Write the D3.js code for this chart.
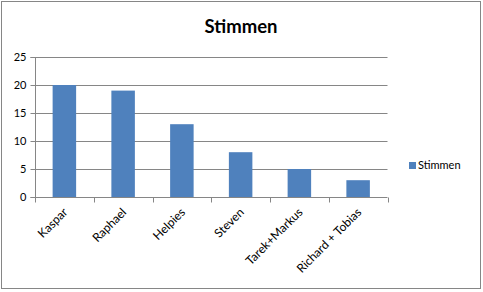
<!DOCTYPE html>
<html><head><meta charset="utf-8">
<script src="https://cdn.jsdelivr.net/npm/d3@7"></script>
<style>body{margin:0;background:#fff}svg{display:block}text{font-family:Lato,"Open Sans",sans-serif}</style>
</head><body>
<script>
const categories = ["Kaspar","Raphael","Helpies","Steven","Tarek+Markus","Richard + Tobias"];
const values = [20,19,13,8,5,3];
const yTicks = [0,5,10,15,20,25];
const seriesName = "Stimmen";
const title = "Stimmen";

const W=483,H=292;
const svg=d3.select("body").append("svg").attr("width",W).attr("height",H);
svg.append("rect").attr("x",1.5).attr("y",1.5).attr("width",479).attr("height",287)
  .attr("fill","#fff").attr("stroke","#868686").attr("stroke-width",1);

const x=d3.scaleBand().domain(categories).range([35,387.5]).paddingInner(0.6).paddingOuter(0.3);
const xb=d3.scaleBand().domain(categories).range([35,387.5]);
const y=d3.scaleLinear().domain([0,25]).range([197,57]);

svg.append("text").attr("x",241).attr("y",33).attr("text-anchor","middle")
  .attr("font-size",18.5).attr("font-weight","bold").attr("fill","#000").text(title);

const g=svg.append("g");
yTicks.forEach(t=>{
  if(t>0) g.append("line").attr("x1",35).attr("x2",387.5).attr("y1",Math.round(y(t))+0.5).attr("y2",Math.round(y(t))+0.5).attr("stroke","#868686");
});

g.selectAll("rect.bar").data(values).join("rect").attr("class","bar")
  .attr("x",(d,i)=>x(categories[i])).attr("width",x.bandwidth())
  .attr("y",d=>y(d)).attr("height",d=>y(0)-y(d)).attr("fill","#4F81BD");

const ya=svg.append("g").attr("transform","translate(35.5,0)")
  .call(d3.axisLeft(y).tickValues(yTicks).tickSize(5).tickPadding(4));
ya.select(".domain").attr("stroke","#868686").attr("d","M-5,57.5H0V197.5H-5");
ya.selectAll(".tick line").attr("stroke","#868686");
ya.selectAll(".tick text").attr("font-size",11).attr("fill","#000");

const xa=svg.append("g").attr("transform","translate(0,197.5)")
  .call(d3.axisBottom(xb).tickSize(0).tickFormat(""));
xa.select(".domain").attr("stroke","#868686").attr("d","M35,0H387.5");
const bounds=[...categories.map(c=>xb(c)),387.5];
bounds.forEach(b=>xa.append("line").attr("x1",Math.round(b)+0.5).attr("x2",Math.round(b)+0.5).attr("y1",0).attr("y2",5).attr("stroke","#868686"));

svg.append("g").selectAll("text").data(categories).join("text")
  .attr("transform",d=>`translate(${xb(d)+xb.bandwidth()/2+4},${213}) rotate(-45)`)
  .attr("text-anchor","end").attr("font-size",12).attr("fill","#000").text(d=>d);

svg.append("rect").attr("x",409).attr("y",162).attr("width",7).attr("height",7).attr("fill","#4F81BD");
svg.append("text").attr("x",418).attr("y",169).attr("font-size",11).attr("fill","#000").text(seriesName);
</script>
</body></html>
